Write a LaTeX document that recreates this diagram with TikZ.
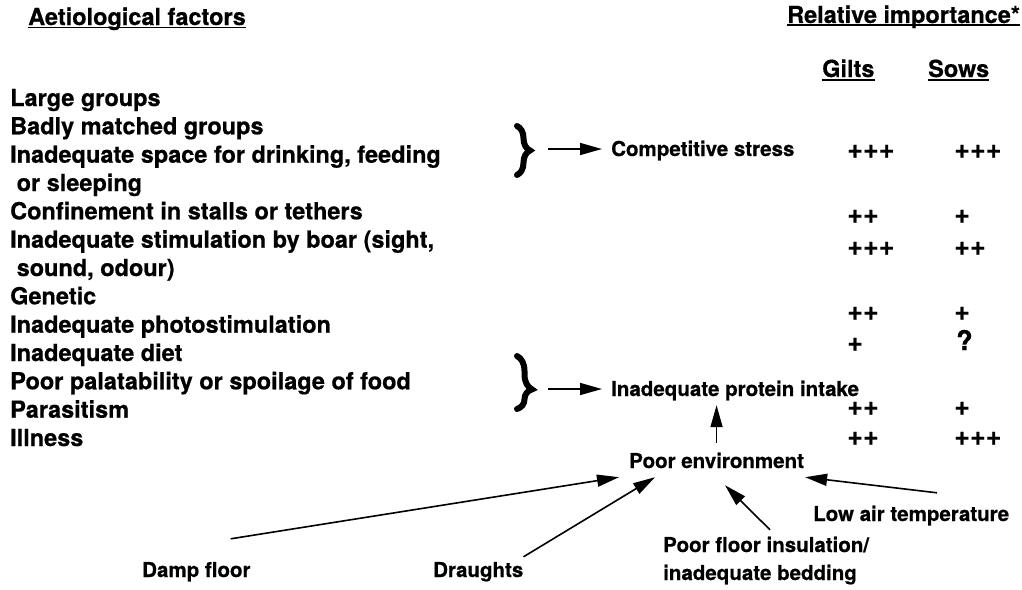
\documentclass[tikz,border=0pt]{standalone}
\usepackage{fontspec}
\setmainfont{TeX Gyre Heros}[BoldFeatures={FakeBold=0.6}]
\usetikzlibrary{arrows.meta,calc,decorations.pathreplacing}
\tikzset{
  big/.style={inner sep=0pt, anchor=base west, font=\fontsize{23.5}{28}\selectfont\bfseries},
  lab/.style={inner sep=0pt, anchor=base west, text height=15pt, text depth=4pt,
              font=\fontsize{20.5}{24}\selectfont\bfseries},
  score/.style={inner sep=0pt, anchor=base west, font=\fontsize{27}{30}\selectfont\bfseries},
  curly/.style={line width=6pt, line cap=round, decorate,
                decoration={brace, amplitude=#1, raise=0pt}},
  conn/.style={line width=1.6pt, -{Triangle[length=22pt,width=12pt]}},
  uline/.style={line width=1.3pt}
}
\begin{document}
\begin{tikzpicture}[x=1pt,y=-1pt]
\fill[white] (0,0) rectangle (1022,589);
\useasboundingbox (0,0) rectangle (1022,589);

% column headings
\node[big] (aet) at (28,25) {Aetiological factors};
\node[big] (rel) at (787,23) {Relative importance*};
\node[big] (gilts) at (822,77) {Gilts};
\node[big] (sows) at (928,77) {Sows};
\foreach \h/\d in {aet/2.5, rel/2, gilts/3, sows/3}
  \draw[uline] ([yshift=-\d pt]\h.base west) -- ([yshift=-\d pt]\h.base east);

% aetiological factors
\node[big] (f1)  at (10,106)   {Large groups};
\node[big] (f2)  at (10,134.3) {Badly matched groups};
\node[big] (f3)  at (10,162.7) {Inadequate space for drinking, feeding};
\node[big] (f3b) at (16.5,191) {or sleeping};
\node[big] (f4)  at (10,219.3) {Confinement in stalls or tethers};
\node[big] (f5)  at (10,247.7) {Inadequate stimulation by boar (sight,};
\node[big] (f5b) at (16.5,276) {sound, odour)};
\node[big] (f6)  at (10,304.3) {Genetic};
\node[big] (f7)  at (10,332.7) {Inadequate photostimulation};
\node[big] (f8)  at (10,361)   {Inadequate diet};
\node[big] (f9)  at (10,389.3) {Poor palatability or spoilage of food};
\node[big] (f10) at (10,417.7) {Parasitism};
\node[big] (f11) at (10,446)   {Illness};

% relative importance scores
\node[score] (g1) at (847,158) {+++};  \node[score] (s1) at (954,158) {+++};
\node[score] (g2) at (847,223) {++};   \node[score] (s2) at (954,223) {+};
\node[score] (g3) at (847,255) {+++};  \node[score] (s3) at (954,255) {++};
\node[score] (g4) at (847,320) {++};   \node[score] (s4) at (954,320) {+};
\node[score] (g5) at (847,351) {+};    \node[score] (s5) at (956,350) {?};
\node[score] (g6) at (847,415) {++};   \node[score] (s6) at (954,415) {+};
\node[score] (g7) at (847,445) {++};   \node[score] (s7) at (954,445) {+++};

% braces grouping the factors, with their tips
\draw[curly=13pt] (517,126) -- (517,175);
\coordinate (b1) at (531,149);
\draw[curly=15pt, decoration={aspect=0.63}] (517,356) -- (517,409);
\coordinate (b2) at (533,389);

\node[lab] (comp) at (611,156) {Competitive stress};
\node[lab] (prot) at (611,396) {Inadequate protein intake};
\draw[conn] ([xshift=17pt]b1) -- ([xshift=-9pt]comp.west |- b1);
\draw[conn] ([xshift=15pt]b2) -- ([xshift=-9pt]prot.west |- b2);

% environment and its causes
\node[lab] (env)   at (629,468) {Poor environment};
\node[lab] (low)   at (813,521) {Low air temperature};
\node[lab] (floorA) at (663,552) {Poor floor insulation/};
\node[lab] (floorB) at (663,580) {inadequate bedding};
\node[lab] (damp)  at (142,577) {Damp floor};
\node[lab] (dr)    at (433,577) {Draughts};

\draw[conn] ([yshift=10pt]env.north) -- ([yshift=-5pt]env.north |- prot.south);
\draw[conn] ([xshift=-20pt,yshift=23pt]damp.north east) -- ([xshift=-10pt,yshift=-5pt]env.south west);
\draw[conn] ([yshift=5pt]dr.north east) -- ([xshift=26pt,yshift=-5pt]env.south west);
\draw[conn] ([xshift=107pt,yshift=7pt]floorA.north west) -- ([xshift=96pt,yshift=-13pt]env.south west);
\draw[conn] ([xshift=124pt,yshift=13pt]low.north west) -- ([xshift=1pt,yshift=-5pt]env.south east);
\end{tikzpicture}
\end{document}
